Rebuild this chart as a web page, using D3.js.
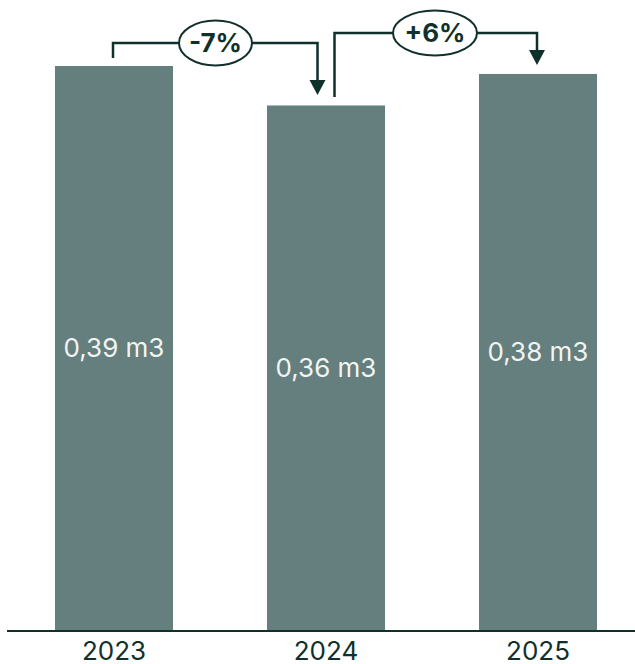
<!DOCTYPE html>
<html>
<head>
<meta charset="utf-8">
<script src="https://cdn.jsdelivr.net/npm/d3@7"></script>
<style>
  html, body { margin: 0; padding: 0; background: #ffffff; }
  svg { display: block; }
</style>
</head>
<body>
<svg id="chart" width="635" height="664"></svg>
<script>
// ---- data ----
const years = ["2023", "2024", "2025"];
const values = [0.39, 0.3627, 0.3845];
const valueLabels = ["0,39 m3", "0,36 m3", "0,38 m3"];
const changeFrom = ["2023", "2024"];
const changeTo = ["2024", "2025"];
const changeLabels = ["-7%", "+6%"];

// ---- layout ----
const W = 635, H = 664;
const baseY = 630;
const barColor = "#647f7d";
const dark = "#10302c";
const font = "Inter, 'Noto Sans', sans-serif";

const svg = d3.select("#chart");

const xb = d3.scaleBand().domain(years).range([55, 597]).paddingInner(94 / 212).paddingOuter(0);
const y = d3.scaleLinear().domain([0, 0.39]).range([baseY, 66]);

// bars
svg.selectAll("rect.bar").data(years).join("rect")
  .attr("class", "bar")
  .attr("x", d => xb(d))
  .attr("width", xb.bandwidth())
  .attr("y", (d, i) => y(values[i]))
  .attr("height", (d, i) => baseY - y(values[i]))
  .attr("fill", barColor);

// value labels
svg.selectAll("text.val").data(years).join("text")
  .attr("class", "val")
  .attr("x", d => xb(d) + xb.bandwidth() / 2)
  .attr("y", (d, i) => (y(values[i]) + baseY) / 2)
  .attr("dy", "0.35em")
  .attr("text-anchor", "middle")
  .attr("font-family", font)
  .attr("font-size", 26)
  .attr("fill", "#f2f4f3")
  .text((d, i) => valueLabels[i]);

// x axis
const axis = d3.axisBottom(xb).tickSize(0).tickPadding(12);
const gAxis = svg.append("g").attr("transform", `translate(0,${baseY})`).call(axis);
gAxis.select(".domain").remove();
gAxis.selectAll("text")
  .attr("font-family", font)
  .attr("font-size", 26)
  .attr("fill", dark);
svg.append("line")
  .attr("x1", 7).attr("x2", W)
  .attr("y1", baseY + 1).attr("y2", baseY + 1)
  .attr("stroke", dark).attr("stroke-width", 2);

// change brackets
const brackets = [
  { sx: -1, ex: -8.5, lineY: 43, startY: 58, tipY: 95, ecx: 215.5, rx: 36.5, ry: 22.5 },
  { sx: 8.5, ex: -1, lineY: 33, startY: 97, tipY: 65, ecx: 435, rx: 42, ry: 22.5 }
];
changeLabels.forEach((lab, i) => {
  const b = brackets[i];
  const x0 = xb(changeFrom[i]) + xb.bandwidth() / 2 + b.sx;
  const x1 = xb(changeTo[i]) + xb.bandwidth() / 2 + b.ex;
  const g = svg.append("g");
  g.append("path")
    .attr("d", `M${x0},${b.startY} V${b.lineY} H${x1} V${b.tipY - 14}`)
    .attr("fill", "none").attr("stroke", dark).attr("stroke-width", 2.5);
  g.append("path")
    .attr("d", `M${x1 - 8},${b.tipY - 15} L${x1 + 8},${b.tipY - 15} L${x1},${b.tipY} Z`)
    .attr("fill", dark);
  g.append("ellipse")
    .attr("cx", b.ecx).attr("cy", b.lineY)
    .attr("rx", b.rx).attr("ry", b.ry)
    .attr("fill", "#ffffff").attr("stroke", dark).attr("stroke-width", 2);
  g.append("text")
    .attr("x", b.ecx).attr("y", b.lineY)
    .attr("dy", "0.36em")
    .attr("text-anchor", "middle")
    .attr("font-family", font)
    .attr("font-weight", "bold")
    .attr("font-size", 26)
    .attr("fill", dark)
    .text(lab);
});
</script>
</body>
</html>
